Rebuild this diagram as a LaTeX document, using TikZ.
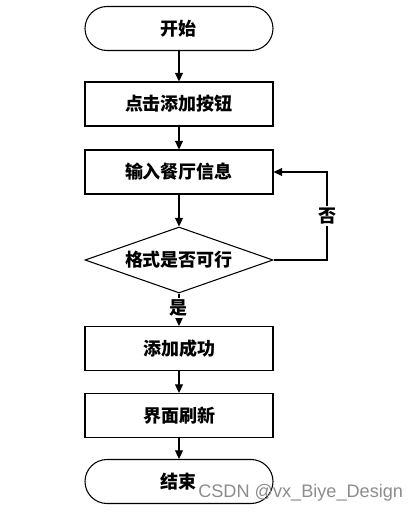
\documentclass[tikz,border=0pt]{standalone}
\usepackage{fontspec}
\newfontfamily\cjk{Noto Sans CJK SC}
\newfontfamily\wm{Liberation Sans}
\usetikzlibrary{shapes.geometric,arrows.meta}
\begin{document}
\begin{tikzpicture}[x=0.75pt,y=-0.75pt,
  cjkfont/.style={font=\cjk\bfseries\fontsize{13.5}{16}\selectfont},
  box/.style={draw, line width=0.8pt, minimum width=141pt, minimum height=33pt, inner sep=0pt, cjkfont},
  term/.style={box, rounded corners=16.5pt},
  dec/.style={draw, diamond, aspect=2.85, line width=0.8pt, minimum width=141pt, minimum height=49.5pt, inner sep=0pt, cjkfont},
  arr/.style={-{Triangle[width=6pt,length=6.5pt]}, line width=0.8pt},
  lbl/.style={fill=white, inner sep=1.5pt, cjkfont}]
\useasboundingbox (0,0) rectangle (419,512);
\node[term] (start) at (179,28.5) {开始};
\node[box] (b1) at (179,104) {点击添加按钮};
\node[box] (b2) at (179,172) {输入餐厅信息};
\node[dec] (d) at (179,260) {格式是否可行};
\node[box] (b3) at (179,348.5) {添加成功};
\node[box] (b4) at (179,415.5) {界面刷新};
\node[term] (end) at (179,481.5) {结束};
\coordinate (c1) at (327,260);
\coordinate (c2) at (327,172);
\draw[arr] (start) -- (b1);
\draw[arr] (b1) -- (b2);
\draw[arr] (b2) -- (d);
\draw[arr] (d) -- node[lbl, pos=0.45] (yes) {是} (b3);
\draw[arr] (d.east) -- (c1) -- node[lbl, pos=0.5] (no) {否} (c2) -- (b2.east);
\draw[arr] (b3) -- (b4);
\draw[arr] (b4) -- (end);
\node[anchor=west, inner sep=0pt, text=black!45, font=\wm\fontsize{13.6}{16}\selectfont] (mark) at (198,493) {CSDN @vx\_Biye\_Design};
\end{tikzpicture}
\end{document}
